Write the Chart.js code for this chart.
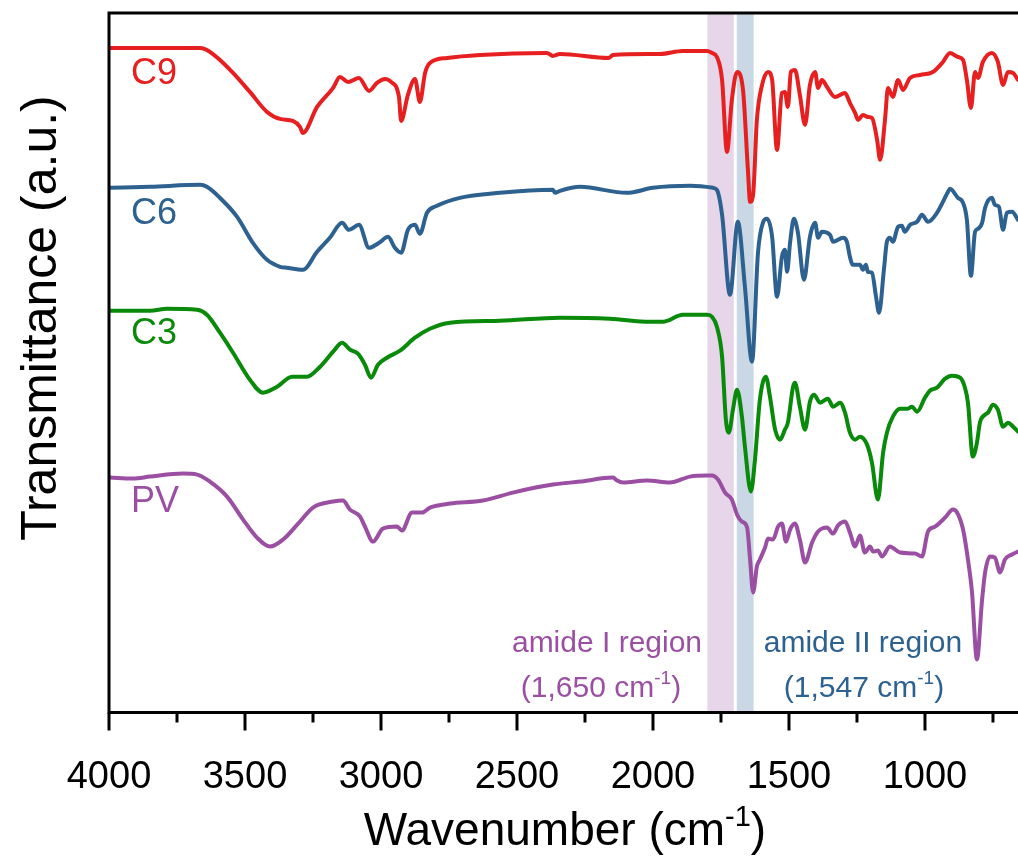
<!DOCTYPE html>
<html><head><meta charset="utf-8">
<script src="https://cdn.jsdelivr.net/npm/chart.js@4.4.1/dist/chart.umd.min.js"></script>
<style>html,body{margin:0;padding:0;background:#fff;}</style>
</head><body>
<canvas id="c" width="1018" height="857" style="display:block"></canvas>
<script>
// ---------- data (wavenumber in cm-1, transmittance in a.u., stacked offsets as in figure) ----------
const seriesNames = ['C9', 'C6', 'C3', 'PV'];
const seriesColors = ['#e62020', '#2d6190', '#0a8a0a', '#9b4fa3'];

const c9Wavenumber = [3996,3849,3665,3640,3592,3544,3482,3419,3371,3324,3298,3287,3235,3176,3151,3121,3081,3044,3015,2985,2963,2934,2926,2901,2875,2857,2838,2820,2757,2636,2390,2368,2342,2162,2147,1974,1890,1801,1783,1765,1746,1728,1710,1691,1669,1651,1643,1632,1618,1599,1577,1562,1544,1526,1515,1504,1493,1478,1460,1441,1423,1404,1393,1379,1360,1331,1294,1276,1257,1246,1228,1210,1195,1176,1165,1147,1136,1118,1099,1081,1055,1018,971,934,908,879,860,846,831,816,805,787,754,732,713,695,676,658];
const c9Values = [665,665,665,663,653,640,621,601,594,592,586,580,606,625,636,631,635,622,630,634,631,616,592,618,634,611,640,650,655,658,660,657,659,655,658,659,662,662,660,656,633,561,613,641,623,543,511,518,593,628,641,633,563,620,621,606,641,643,618,588,628,641,625,633,626,616,620,610,600,593,598,596,595,573,553,593,625,616,633,623,635,638,641,651,660,656,653,633,605,641,635,651,660,651,628,641,640,633];

const c6Wavenumber = [3996,3849,3665,3640,3592,3529,3471,3419,3371,3346,3287,3235,3188,3143,3118,3081,3044,3007,2974,2949,2926,2901,2875,2857,2831,2794,2710,2563,2368,2360,2342,2268,2096,2000,1864,1779,1765,1746,1717,1688,1662,1636,1614,1596,1581,1562,1544,1526,1515,1507,1496,1482,1467,1445,1423,1404,1393,1379,1349,1338,1301,1287,1276,1265,1239,1228,1217,1210,1195,1180,1169,1151,1140,1129,1118,1099,1085,1074,1055,1029,1011,989,956,915,908,879,860,846,831,816,805,790,779,754,743,728,713,699,680,658];
const c6Values = [525,526,528,526,515,496,470,453,446,445,443,461,475,490,483,488,465,470,476,465,460,483,488,479,500,507,515,520,523,520,522,526,520,525,527,525,523,498,418,491,426,351,460,490,494,476,416,456,463,441,470,494,480,433,476,490,475,481,478,471,475,471,456,448,448,443,448,441,440,416,400,443,471,475,471,486,487,481,488,491,498,491,500,521,524,515,510,493,437,481,484,490,505,515,508,506,483,500,501,493];

const c3Wavenumber = [3996,3849,3787,3676,3640,3592,3544,3482,3434,3382,3327,3272,3224,3176,3143,3114,3085,3059,3037,3011,2978,2930,2875,2820,2746,2563,2342,2158,2011,1963,1890,1801,1783,1765,1746,1732,1721,1706,1691,1673,1662,1640,1625,1607,1585,1570,1551,1533,1515,1504,1485,1478,1460,1441,1423,1408,1386,1357,1338,1312,1294,1276,1257,1239,1213,1195,1173,1154,1140,1118,1092,1063,1048,1029,1000,982,956,926,901,871,853,842,824,809,798,779,768,750,732,713,695,676,658];
const c3Values = [402,402,404,403,398,380,360,333,320,326,336,336,346,361,370,363,359,348,335,348,355,362,375,384,390,392,395,394,391,391,398,398,396,386,356,293,280,303,323,296,266,221,253,313,336,316,283,273,283,290,326,330,306,283,311,318,310,314,306,310,300,280,273,276,268,250,213,260,280,296,304,304,306,301,315,322,325,334,337,335,325,310,256,270,290,298,300,308,303,286,290,286,281];

const pvWavenumber = [3996,3912,3849,3728,3676,3629,3566,3507,3456,3408,3360,3298,3250,3176,3140,3114,3077,3059,3029,2993,2941,2923,2886,2849,2820,2746,2625,2515,2368,2268,2147,2132,2110,2022,1938,1864,1801,1783,1761,1735,1710,1691,1673,1654,1643,1632,1618,1607,1588,1577,1559,1540,1526,1511,1496,1478,1460,1441,1415,1393,1360,1338,1320,1294,1276,1257,1239,1221,1202,1191,1173,1158,1129,1092,1037,1011,989,963,926,897,882,860,842,827,809,790,779,761,743,724,706,680,658];
const pvValues = [235,234,236,239,238,231,216,193,175,166,173,191,205,211,212,203,196,186,171,184,186,182,200,200,205,209,212,220,228,231,235,232,230,232,230,236,237,237,233,220,213,198,191,185,153,120,146,153,165,174,173,186,189,171,183,189,173,150,170,181,185,179,187,191,180,166,177,160,166,161,162,156,166,160,159,156,181,186,195,203,200,183,153,120,53,113,140,156,155,140,153,158,161];

const majorTicks = [4000, 3500, 3000, 2500, 2000, 1500, 1000];
const minorTicks = [3750, 3250, 2750, 2250, 1750, 1250, 750];
const amideIBand = [1800, 1703];
const amideIIBand = [1692, 1630];
const labelPositions = [ // y value (a.u.) of each series label baseline
  629, 489, 369, 201
];

// ---------- chart ----------
const FONT = "'Liberation Sans', Arial, Helvetica, sans-serif";
const wnArrays = [c9Wavenumber, c6Wavenumber, c3Wavenumber, pvWavenumber];
const valArrays = [c9Values, c6Values, c3Values, pvValues];

const datasets = seriesNames.map((name, i) => ({
  label: name,
  data: wnArrays[i].map((w, k) => ({ x: w, y: valArrays[i][k] })),
  borderColor: seriesColors[i],
  borderWidth: 4,
  pointRadius: 0,
  fill: false,
  cubicInterpolationMode: 'monotone',
  borderJoinStyle: 'round',
  borderCapStyle: 'round'
}));

function drawRich(ctx, parts, cx, baseline, size, color, align) {
  ctx.save();
  ctx.fillStyle = color;
  ctx.textBaseline = 'alphabetic';
  ctx.textAlign = 'left';
  const supSize = Math.round(size * 0.62);
  let total = 0;
  parts.forEach(p => {
    ctx.font = (p.sup ? supSize : size) + 'px ' + FONT;
    p.w = ctx.measureText(p.t).width;
    total += p.w;
  });
  let x = align === 'left' ? cx : cx - total / 2;
  parts.forEach(p => {
    ctx.font = (p.sup ? supSize : size) + 'px ' + FONT;
    ctx.fillText(p.t, x, p.sup ? baseline - size * 0.42 : baseline);
    x += p.w;
  });
  ctx.restore();
}

const decor = {
  id: 'decor',
  beforeDatasetsDraw(chart) {
    const { ctx, chartArea: a, scales: { x } } = chart;
    ctx.save();
    ctx.fillStyle = '#e7d5ea';
    let x1 = x.getPixelForValue(amideIBand[0]), x2 = x.getPixelForValue(amideIBand[1]);
    ctx.fillRect(x1, a.top, x2 - x1, a.bottom - a.top);
    ctx.fillStyle = '#c9d8e4';
    x1 = x.getPixelForValue(amideIIBand[0]); x2 = x.getPixelForValue(amideIIBand[1]);
    ctx.fillRect(x1, a.top, x2 - x1, a.bottom - a.top);
    ctx.restore();
  },
  afterDraw(chart) {
    const { ctx, chartArea: a, scales: { x, y } } = chart;
    ctx.save();
    // frame
    ctx.strokeStyle = '#000';
    ctx.lineWidth = 3;
    ctx.beginPath();
    ctx.moveTo(a.left, a.top); ctx.lineTo(a.left, a.bottom);
    ctx.moveTo(a.left - 1.5, a.bottom); ctx.lineTo(chart.width, a.bottom);
    ctx.moveTo(a.left - 1.5, a.top); ctx.lineTo(chart.width, a.top);
    ctx.stroke();
    // ticks
    ctx.beginPath();
    majorTicks.forEach(v => { const px = x.getPixelForValue(v); ctx.moveTo(px, a.bottom); ctx.lineTo(px, a.bottom + 18); });
    minorTicks.forEach(v => { const px = x.getPixelForValue(v); if (px <= a.right) { ctx.moveTo(px, a.bottom); ctx.lineTo(px, a.bottom + 10); } });
    ctx.stroke();
    // series labels
    ctx.font = '36px ' + FONT;
    ctx.textBaseline = 'alphabetic';
    ctx.textAlign = 'left';
    seriesNames.forEach((n, i) => {
      ctx.fillStyle = seriesColors[i];
      ctx.fillText(n, a.left + 22, y.getPixelForValue(labelPositions[i]));
    });
    // annotations
    drawRich(ctx, [{ t: 'amide I region' }], 607, 652, 30, seriesColors[3]);
    drawRich(ctx, [{ t: '(1,650 cm' }, { t: '-1', sup: true }, { t: ')' }], 601, 697, 30, seriesColors[3]);
    drawRich(ctx, [{ t: 'amide II region' }], 863, 652, 30, seriesColors[1]);
    drawRich(ctx, [{ t: '(1,547 cm' }, { t: '-1', sup: true }, { t: ')' }], 864, 697, 30, seriesColors[1]);
    // axis titles
    drawRich(ctx, [{ t: 'Wavenumber (cm' }, { t: '-1', sup: true }, { t: ')' }], 565, 845, 46, '#000');
    ctx.save();
    ctx.translate(56, 318);
    ctx.rotate(-Math.PI / 2);
    ctx.font = '50px ' + FONT;
    ctx.fillStyle = '#000';
    ctx.textAlign = 'center';
    ctx.textBaseline = 'alphabetic';
    ctx.fillText('Transmittance (a.u.)', 0, 0);
    ctx.restore();
    ctx.restore();
  }
};

new Chart(document.getElementById('c'), {
  type: 'line',
  data: { datasets },
  options: {
    responsive: false,
    animation: false,
    devicePixelRatio: 1,
    layout: { padding: { left: 109, top: 13, right: 0, bottom: 33 } },
    plugins: { legend: { display: false }, tooltip: { enabled: false } },
    scales: {
      x: {
        type: 'linear',
        reverse: true,
        min: 658,
        max: 4000,
        afterBuildTicks: s => { s.ticks = majorTicks.map(v => ({ value: v })); },
        ticks: {
          autoSkip: false, maxRotation: 0, padding: 24, color: '#000',
          font: { family: FONT, size: 38 },
          callback: v => String(v)
        },
        grid: { display: false, drawTicks: true, tickLength: 18 },
        border: { display: false }
      },
      y: { display: false, min: 0, max: 700 }
    }
  },
  plugins: [decor]
});
</script>
</body></html>
